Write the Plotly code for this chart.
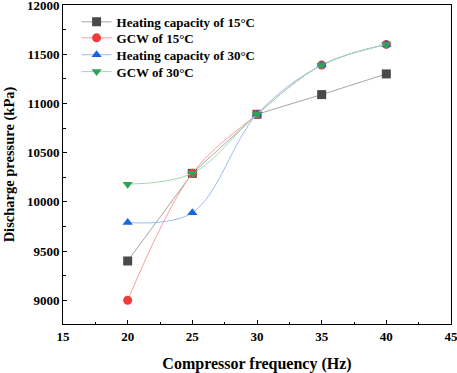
import plotly.graph_objects as go

freq = [20, 25, 30, 35, 40]
heat15 = [9400, 10290, 10890, 11090, 11300]
gcw15 = [9000, 10290, 10890, 11390, 11600]
heat30 = [9790, 9890, 10890, 11390, 11600]
gcw30 = [10180, 10290, 10890, 11390, 11600]
x_ticks = [15, 20, 25, 30, 35, 40, 45]
y_ticks = [9000, 9500, 10000, 10500, 11000, 11500, 12000]

series = [
    ("Heating capacity of 15\u00b0C", heat15, "#4a4a4a", "#a6a6a6", "square", "linear"),
    ("GCW of 15\u00b0C", gcw15, "#f23a3a", "#f7a0a0", "circle", "spline"),
    ("Heating capacity of 30\u00b0C", heat30, "#1565e0", "#9bbcef", "triangle-up", "spline"),
    ("GCW of 30\u00b0C", gcw30, "#2ea35c", "#9fd8b3", "triangle-down", "spline"),
]

font = "Liberation Serif, Times New Roman, serif"
legend_ids = ["legend", "legend2", "legend3", "legend4"]
legend_y = [0.947, 0.897, 0.844, 0.791]

fig = go.Figure()
for (name, ys, mc, lc, sym, shape), lid in zip(series, legend_ids):
    fig.add_trace(go.Scatter(
        x=freq, y=ys, name=name, mode="lines+markers", legend=lid,
        line=dict(color=lc, width=1, shape=shape, smoothing=1.0),
        marker=dict(color=mc, symbol=sym, size=9),
    ))

legends = {}
for lid, ly in zip(legend_ids, legend_y):
    legends[lid] = dict(x=0.035, y=ly, xanchor="left", yanchor="middle",
                        font=dict(size=13, family=font, color="black", weight="bold"),
                        bgcolor="rgba(0,0,0,0)", itemwidth=30)

fig.update_layout(
    width=457, height=373,
    margin=dict(l=63, r=6, t=5, b=49, autoexpand=False),
    plot_bgcolor="white", paper_bgcolor="white",
    font=dict(family=font, color="black"),
    showlegend=True,
    **legends,
)
fig.update_xaxes(
    range=[15, 45], tickvals=x_ticks, ticktext=[str(v) for v in x_ticks],
    ticks="inside", ticklen=4, tickcolor="black", automargin=False, ticklabeloverflow="allow",
    minor=dict(tickvals=[17.5, 22.5, 27.5, 32.5, 37.5, 42.5], ticks="inside", ticklen=2.5, tickcolor="black"),
    showline=True, linecolor="black", linewidth=1, mirror=True, showgrid=False, zeroline=False,
    tickfont=dict(size=13, family=font, color="black", weight="bold"),
    title=dict(text="Compressor frequency (Hz)", font=dict(size=16, family=font, color="black", weight="bold"), standoff=16),
)
fig.update_yaxes(
    range=[8760, 12000], tickvals=y_ticks, ticktext=[str(v) for v in y_ticks],
    ticks="inside", ticklen=4, tickcolor="black", automargin=False, ticklabeloverflow="allow",
    minor=dict(tickvals=[9250, 9750, 10250, 10750, 11250, 11750], ticks="inside", ticklen=2.5, tickcolor="black"),
    showline=True, linecolor="black", linewidth=1, mirror=True, showgrid=False, zeroline=False,
    tickfont=dict(size=13, family=font, color="black", weight="bold"),
    title=dict(text="Discharge pressure (kPa)", font=dict(size=14.5, family=font, color="black", weight="bold"), standoff=8),
)
fig.write_html("out.html", post_script="document.body.style.margin='0';",
               config={"displayModeBar": False})
